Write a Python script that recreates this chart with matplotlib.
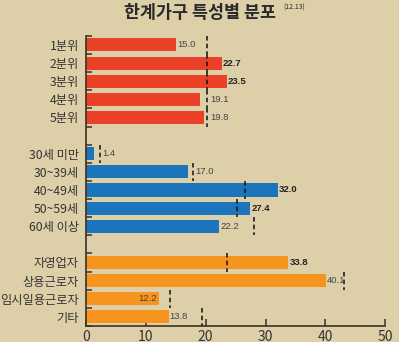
import matplotlib.pyplot as plt
import numpy as np

plt.rcParams['font.family'] = ['Noto Sans CJK KR', 'DejaVu Sans']

categories = ['1분위', '2분위', '3분위', '4분위', '5분위',
              '30세 미만', '30~39세', '40~49세', '50~59세', '60세 이상',
              '자영업자', '상용근로자', '임시일용근로자', '기타']
values = [15.0, 22.7, 23.5, 19.1, 19.8,
          1.4, 17.0, 32.0, 27.4, 22.2,
          33.8, 40.1, 12.2, 13.8]
# dashed reference marks
refs = [20.2, 20.2, 20.2, 20.2, 20.2,
        2.3, 17.8, 26.5, 25.3, 28.1,
        23.6, 43.1, 14.0, 19.4]
groups = [0] * 5 + [1] * 5 + [2] * 4
xticks = [0, 10, 20, 30, 40, 50]

colors = ['#EA4128', '#1C75BC', '#F7941D']
bg = '#DDD0A9'
axcol = '#3b3024'

# slot positions: one empty slot between groups
slots = np.array([i + g for i, g in enumerate(groups)]) + 0.5
nslots = len(categories) + 2

fig = plt.figure(figsize=(3.99, 3.42), dpi=100, facecolor=bg)
ax = fig.add_axes([0.2155, 0.047, 0.75, 0.848], facecolor=bg)

ax.barh(slots, values, height=0.72, color=[colors[g] for g in groups], zorder=2)

for y, v, r in zip(slots, values, refs):
    ax.vlines(r, y - 0.5, y + 0.5, colors='#111111', linestyles=(0, (3, 2)),
              linewidth=1.1, zorder=3)
    bold = v > r
    if v == 12.2:
        x, ha = v - 0.3, 'right'
    elif 0 <= r - v < 1.5:
        x, ha = r + 0.5, 'left'
    else:
        x, ha = v + 0.2, 'left'
    ax.text(x, y, f'{v:.1f}', va='center', ha=ha, fontsize=6.8,
            fontweight='bold' if bold else 'normal',
            color='#222222' if bold else '#444444',
            family=['Liberation Sans Narrow', 'Liberation Sans'], zorder=4)

ax.set_xlim(0, 50)
ax.set_ylim(nslots, 0)
ax.set_xticks(xticks)
ax.set_xticklabels([str(t) for t in xticks])
ax.set_yticks(slots)
ax.set_yticklabels(categories)
ax.set_yticks(np.arange(0, nslots + 1), minor=True)

for s in ['top', 'right']:
    ax.spines[s].set_visible(False)
for s in ['left', 'bottom']:
    ax.spines[s].set_color(axcol)
    ax.spines[s].set_linewidth(1.2)

ax.tick_params(axis='x', direction='in', length=5, width=1.1, color=axcol,
               labelsize=10, labelcolor='#333333', pad=3)
ax.tick_params(axis='y', which='major', length=0, labelsize=8.8,
               labelcolor='#333333', pad=5)
ax.tick_params(axis='y', which='minor', direction='in', length=4, width=1.1,
               color=axcol)

fig.text(0.5, 0.962, '한계가구 특성별 분포', ha='center', va='center',
         fontsize=12.5, fontweight='bold', color='#2a2a2a')
fig.text(0.71, 0.978, '(12.13)', ha='left', va='center', fontsize=5,
         color='#2a2a2a')

fig.savefig('out.png', dpi=100, facecolor=bg)
